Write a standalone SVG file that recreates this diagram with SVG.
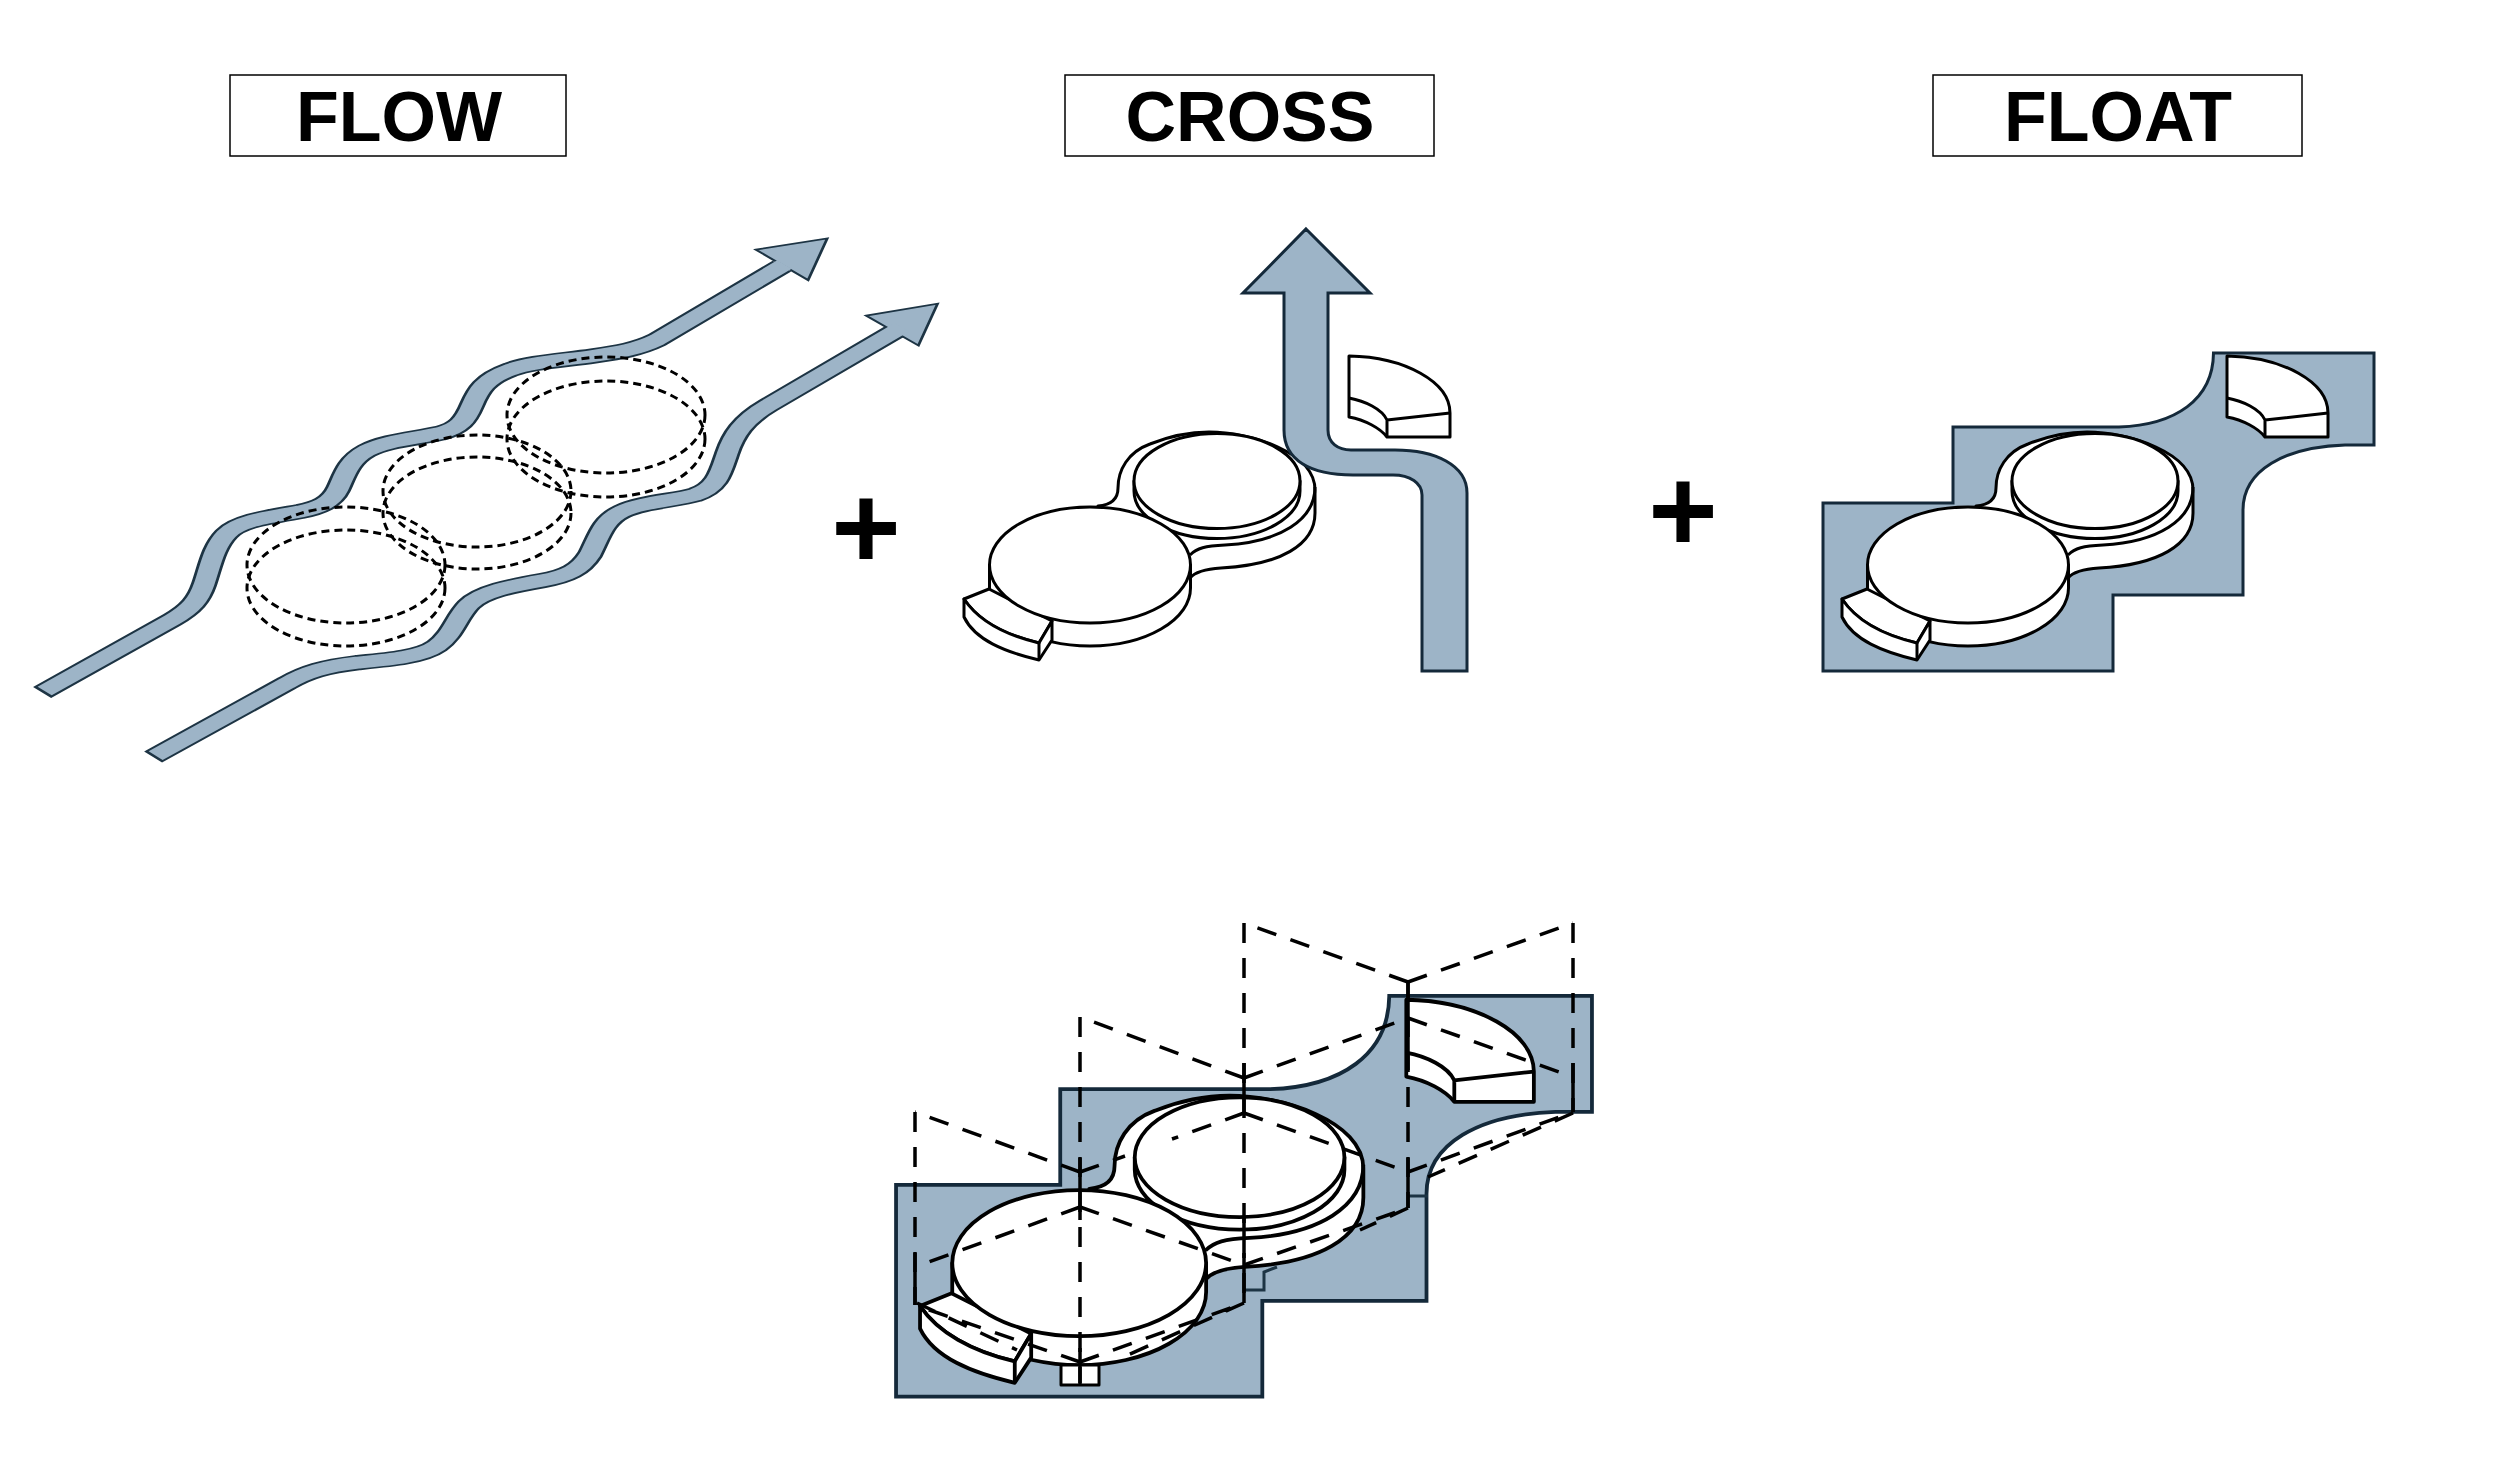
<svg xmlns="http://www.w3.org/2000/svg" xmlns:xlink="http://www.w3.org/1999/xlink" width="2500" height="1477" viewBox="0 0 2500 1477">
<style>
.title{font:bold 70px "Liberation Sans",Arial,sans-serif;text-anchor:middle;fill:#000}
.plus{font:bold 119px "Liberation Sans",Arial,sans-serif;text-anchor:middle;fill:#000}
.box{fill:#fff;stroke:#000;stroke-width:1.500}
.rib{fill:none;stroke:#1d3444;stroke-width:41;stroke-linejoin:round}
.ribf{fill:none;stroke:#9db4c7;stroke-width:32;stroke-linejoin:round}
.head{fill:#9db4c7;stroke:#1d3444;stroke-width:4.500;stroke-linejoin:miter}
.dsh{fill:none;stroke:#000;stroke-width:3;stroke-dasharray:8 5}
.blue{fill:#9db4c7;stroke:#14293a;stroke-width:3;stroke-linejoin:miter}
.w{fill:#fff;stroke:#000;stroke-width:3;stroke-linejoin:round}
.l{fill:none;stroke:#000;stroke-width:3;stroke-linejoin:round}
.d{fill:none;stroke:#000;stroke-width:3.500;stroke-dasharray:20 15}
.s{fill:none;stroke:#000;stroke-width:3.500}
.t{fill:none;stroke:#1d3444;stroke-width:3}
</style>
<defs>
<g id="disc">
<path class="w" d="M1098 506C1110 505 1118 500 1118 488C1118 470 1128 452 1150 444C1170 436 1190 432 1209 432C1250 432 1315 452 1315 490V513C1315 545 1280 565 1221 568C1205 569 1195 572 1190 578L1100 560Z"/>
<path class="l" d="M1315 487C1315 520 1280 542 1225 545C1205 546 1197 548 1190 555"/>
<path class="w" d="M1134 481V491A83 47.500 0 0 0 1300 491V481Z"/>
<ellipse class="w" cx="1217" cy="481" rx="83" ry="47.500"/>
<path class="w" d="M989.500 565V588A100.500 58 0 0 0 1190.500 588V565Z"/>
<path class="w" d="M964 599L989 589L1052 621L1039 643C1005 635 978 620 964 599Z"/>
<path class="w" d="M964 599V617C975 640 1005 652 1039 660L1052 640V621L1039 643C1005 635 978 620 964 599Z"/>
<path class="l" d="M1039 643V660"/>
<ellipse class="w" cx="1090" cy="565" rx="100.500" ry="58"/>
</g>
<g id="piece">
<path class="w" d="M1349 356C1405 357 1450 382 1450 413V437H1387C1380 428 1365 420 1349 417Z"/>
<path class="l" d="M1349 398C1365 401 1382 409 1387 420L1450 413M1387 420V437"/>
</g>
<g id="float-shape">
<path class="blue" d="M1823 503H1953V427H2119C2175 425 2213 400 2213.500 353H2374V445H2345C2285 447 2243 470 2243 510V595H2113V671H1823Z"/>
<use xlink:href="#disc" href="#disc" transform="translate(878 0)"/>
<use xlink:href="#piece" href="#piece" transform="translate(878 0)"/>
</g>
</defs>
<rect width="2500" height="1477" fill="#fff"/>
<g id="label-flow"><rect class="box" x="230" y="75" width="336" height="81"/><text class="title" x="399" y="141">FLOW</text></g>
<g id="label-cross"><rect class="box" x="1065" y="75" width="369" height="81"/><text class="title" x="1250" y="141">CROSS</text></g>
<g id="label-float"><rect class="box" x="1933" y="75" width="369" height="81"/><text class="title" x="2118" y="141">FLOAT</text></g>
<g id="plus-1"><text class="plus" x="866" y="568">+</text></g>
<g id="plus-2"><text class="plus" x="1683" y="551">+</text></g>
<g id="flow">
<g transform="matrix(.6378 0 0 .3731 0 200)">
<path class="rib" d="M66 1320L270 1125C300 1096 312 1070 320 1030C330 980 335 930 355 895C375 860 420 850 470 835C500 825 520 810 530 775C540 740 545 700 575 672C605 645 650 640 690 625C720 612 730 590 740 550C750 510 760 480 800 455C830 435 880 430 930 418C970 408 1000 400 1030 375L1226 177"/>
<path class="rib" d="M240 1493L450 1295C480 1265 510 1250 560 1240C610 1232 660 1225 685 1195C710 1165 715 1120 735 1085C755 1050 800 1035 850 1020C890 1008 910 990 925 950C940 900 945 860 975 835C1005 810 1060 805 1090 790C1125 770 1130 730 1140 680C1150 630 1165 590 1205 550L1410 345"/>
<path class="head" d="M1185 133L1297 103L1267 215Z"/>
<path class="head" d="M1358 310L1470 278L1440 390Z"/>
<path class="ribf" d="M70 1316L270 1125C300 1096 312 1070 320 1030C330 980 335 930 355 895C375 860 420 850 470 835C500 825 520 810 530 775C540 740 545 700 575 672C605 645 650 640 690 625C720 612 730 590 740 550C750 510 760 480 800 455C830 435 880 430 930 418C970 408 1000 400 1030 375L1230 173"/>
<path class="ribf" d="M244 1489L450 1295C480 1265 510 1250 560 1240C610 1232 660 1225 685 1195C710 1165 715 1120 735 1085C755 1050 800 1035 850 1020C890 1008 910 990 925 950C940 900 945 860 975 835C1005 810 1060 805 1090 790C1125 770 1130 730 1140 680C1150 630 1165 590 1205 550L1414 341"/>
</g>
<ellipse class="dsh" cx="346" cy="565" rx="99" ry="58"/>
<ellipse class="dsh" cx="346" cy="588" rx="99" ry="58"/>
<ellipse class="dsh" cx="477" cy="491" rx="94" ry="56"/>
<ellipse class="dsh" cx="477" cy="513" rx="94" ry="56"/>
<ellipse class="dsh" cx="606" cy="415" rx="99" ry="58"/>
<ellipse class="dsh" cx="606" cy="439" rx="99" ry="58"/>
</g>
<g id="cross">
<use xlink:href="#disc" href="#disc"/>
<use xlink:href="#piece" href="#piece"/>
<path class="blue" d="M1306 229L1370 293H1328V430C1328 443 1338 450 1351 450H1395C1435 450 1467 465 1467 493V671H1422V495C1422 483 1410 475 1393 475H1353C1310 475 1284 460 1284 430V293H1243Z"/>
</g>
<g id="float"><use xlink:href="#float-shape" href="#float-shape"/></g>
<g id="composite">
<use xlink:href="#float-shape" href="#float-shape" transform="matrix(1.263 0 0 1.26 -1406.400 551.200)"/>
<rect x="1061" y="1365" width="38" height="20" class="w"/>
<path class="t" d="M1244 1290H1264V1272L1277 1267M1408 1196H1428"/>
</g>
<g id="connectors">
<path class="d" d="M1080 1172L915 1112M1080 1172L1125 1156M1244 1113L1172 1139M1244 1113L1408 1172M1408 1172L1573 1112M1244 1078L1080 1017M1244 1078L1408 1018M1408 1018L1573 1077M1408 982L1244 923M1408 982L1573 923"/>
<path class="d" d="M1080 1207L915 1267M1080 1207L1244 1265M1244 1265L1408 1208M1080 1362L915 1305M917 1303L1017 1350M1080 1362L1244 1303M1244 1303L1128 1355M1408 1208L1360 1230M1573 1113L1428 1177"/>
<path class="d" d="M915 1112V1305M1080 1017V1383M1244 923V1303M1408 982V1208M1573 923V1112"/>
<path class="s" d="M915 1253V1305M1080 1158V1220M1080 1348V1385M1244 1063V1113M1244 1218V1237M1244 1253V1303M1408 983V1070M1408 1158V1208M1573 1063V1112"/>
</g>
</svg>
